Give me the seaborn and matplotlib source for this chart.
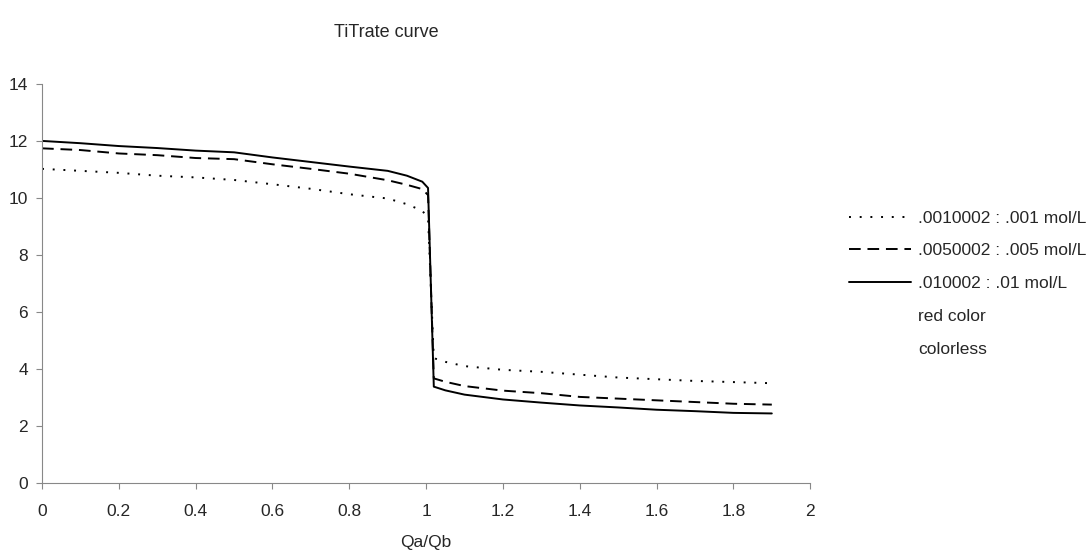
import matplotlib
matplotlib.use('Agg')
import matplotlib.pyplot as plt
from matplotlib.lines import Line2D
import seaborn as sns
import pandas as pd

# Qa/Qb values (shared by all three curves)
ratio = [0.0, 0.1, 0.2, 0.3, 0.4, 0.5, 0.6, 0.7, 0.8, 0.9, 0.95, 0.99, 1.005,
         1.02, 1.05, 1.1, 1.2, 1.3, 1.4, 1.5, 1.6, 1.7, 1.8, 1.9]

ph_001 = [11.02, 10.95, 10.88, 10.78, 10.72, 10.63, 10.48, 10.32, 10.13, 9.98, 9.78, 9.55, 9.3,
          4.38, 4.25, 4.1, 3.97, 3.9, 3.8, 3.7, 3.64, 3.58, 3.54, 3.5]
ph_005 = [11.74, 11.68, 11.56, 11.5, 11.4, 11.36, 11.18, 11.02, 10.85, 10.62, 10.46, 10.31, 10.1,
          3.67, 3.55, 3.4, 3.24, 3.15, 3.02, 2.96, 2.9, 2.84, 2.78, 2.75]
ph_01 = [12.0, 11.92, 11.82, 11.75, 11.66, 11.6, 11.42, 11.26, 11.1, 10.95, 10.78, 10.57, 10.35,
         3.38, 3.25, 3.1, 2.93, 2.82, 2.72, 2.65, 2.57, 2.52, 2.46, 2.44]

labels = ['.0010002 : .001 mol/L', '.0050002 : .005 mol/L', '.010002 : .01 mol/L']
extra_labels = ['red color', 'colorless']

sns.set_style('white')
plt.rcParams['font.family'] = ['Liberation Sans', 'DejaVu Sans']

fig = plt.figure(figsize=(10.89, 5.52), dpi=100)
ax = fig.add_axes([0.0386, 0.125, 0.7054, 0.723])

styles = [(0, (1, 4.5)), (0, (6, 3.5)), '-']
series = [ph_001, ph_005, ph_01]
for vals, lab, ls in zip(series, labels, styles):
    df = pd.DataFrame({'Qa/Qb': ratio, 'pH': vals})
    sns.lineplot(data=df, x='Qa/Qb', y='pH', ax=ax, color='black',
                 linewidth=1.4, linestyle=ls, label=lab, errorbar=None)

ax.set_xlim(0, 2)
ax.set_ylim(0, 14)
ax.set_xticks([0, 0.2, 0.4, 0.6, 0.8, 1.0, 1.2, 1.4, 1.6, 1.8, 2.0])
ax.set_xticklabels(['0', '0.2', '0.4', '0.6', '0.8', '1', '1.2', '1.4', '1.6', '1.8', '2'])
ax.set_yticks(range(0, 15, 2))
ax.tick_params(axis='both', labelsize=12.5, length=4, width=0.8, color='#888888',
               direction='out', left=True, bottom=True)
ax.tick_params(axis='x', pad=11)
ax.tick_params(axis='y', pad=6)
for side in ['top', 'right']:
    ax.spines[side].set_visible(False)
for side in ['left', 'bottom']:
    ax.spines[side].set_color('#888888')
    ax.spines[side].set_linewidth(0.8)

ax.set_xlabel('Qa/Qb', fontsize=12.5, labelpad=12)
ax.set_ylabel('')
fig.text(0.355, 0.942, 'TiTrate curve', ha='center', va='center', fontsize=13)

handles, labs = ax.get_legend_handles_labels()
for t in extra_labels:
    handles.append(Line2D([], [], linestyle='none'))
    labs.append(t)
ax.legend(handles, labs, loc='center left', bbox_to_anchor=(0.765, 0.486),
          bbox_transform=fig.transFigure, frameon=False, fontsize=12.5,
          handlelength=3.6, handletextpad=0.4, labelspacing=1.02)

fig.savefig('out.png', dpi=100)
